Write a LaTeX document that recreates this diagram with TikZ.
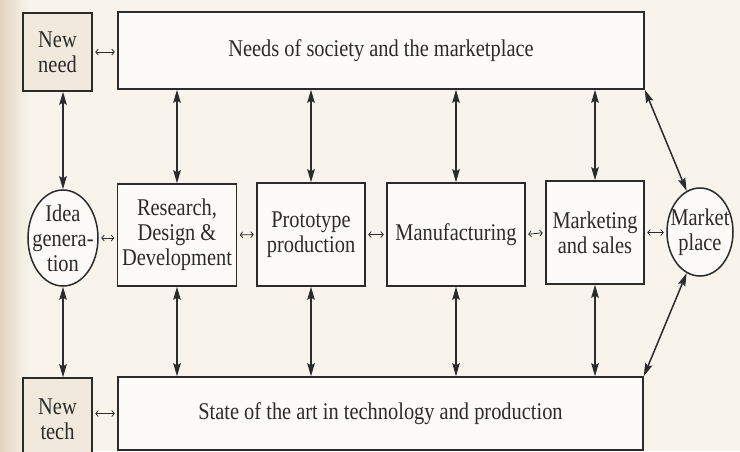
\documentclass[tikz,border=0pt]{standalone}
\usepackage{fontspec}
\setmainfont[FakeStretch=0.85]{Liberation Serif}
\usetikzlibrary{arrows.meta,shapes.geometric,calc}
\definecolor{bg}{HTML}{F8F4EC}
\definecolor{strip}{HTML}{E3D5C1}
\definecolor{boxfill}{HTML}{FCFBF7}
\definecolor{sidefill}{HTML}{F1E9DC}
\definecolor{ink}{HTML}{2B2B2B}
\begin{document}
\begin{tikzpicture}[x=1pt,y=-1pt,
  lbl/.style={text=ink,align=center,font=\fontsize{24}{25}\selectfont},
  box/.style={lbl,draw=ink,line width=1.5pt,fill=boxfill,inner sep=2pt},
  sidebox/.style={box,fill=sidefill},
  oval/.style={ellipse,draw=ink,line width=1.5pt,fill=boxfill,inner sep=0pt},
  bigarrow/.style={draw=ink,line width=1.5pt,
    {Stealth[length=13pt,width=7.5pt,inset=2pt]}-{Stealth[length=13pt,width=7.5pt,inset=2pt]}},
  link/.style={draw=ink,line width=0.8pt,
    {Straight Barb[length=2.5pt,width=6pt]}-{Straight Barb[length=2.5pt,width=6pt]},
    shorten <=2.5pt,shorten >=2.5pt}]
\useasboundingbox (0,0) rectangle (740,451);
\clip (0,0) rectangle (740,451);
\fill[bg] (0,0) rectangle (740,451);
\shade[left color=strip,right color=bg] (0,0) rectangle (30,451);

% top row
\node[sidebox,minimum width=69pt,minimum height=78pt] (newneed) at (57.5,52) {New\\need};
\node[box,minimum width=526pt,minimum height=77pt] (needs) at (381,50.5) {Needs of society and the marketplace};

% middle row
\node[oval,minimum width=70pt,minimum height=96pt] (idea) at (63,238) {};
\node[lbl] at (idea) {Idea\\genera-\\tion};
\node[box,minimum width=119pt,minimum height=102pt] (rdd) at (177,235) {Research,\\Design \&\\Development};
\node[box,minimum width=108pt,minimum height=103pt] (proto) at (311,234.5) {Prototype\\production};
\node[box,minimum width=138pt,minimum height=103pt] (manuf) at (456,234.5) {Manufacturing};
\node[box,minimum width=98pt,minimum height=103pt] (mkt) at (595,232.5) {Marketing\\and sales};
\node[oval,minimum width=66pt,minimum height=88pt] (mplace) at (700,232) {};
\node[lbl] at (mplace) {Market\\place};

% bottom row
\node[sidebox,minimum width=69pt,minimum height=82pt] (newtech) at (57.5,419) {New\\tech};
\node[box,minimum width=525pt,minimum height=73pt] (state) at (380.5,413.5) {State of the art in technology and production};

% small links
\draw[link] (newneed.east) -- (newneed.east -| needs.west);
\draw[link] (idea.east) -- (idea.east -| rdd.west);
\draw[link] (rdd.east) -- (proto.west);
\draw[link] (proto.east) -- (manuf.west);
\draw[link] (manuf.east) -- (mkt.west);
\draw[link] (mkt.east) -- (mkt.east -| mplace.west);
\draw[link] (newtech.east |- state) -- (state.west);

% vertical arrows
\draw[bigarrow] (idea.north |- newneed.south) -- (idea.north);
\draw[bigarrow] (idea.south) -- (idea.south |- newtech.north);
\foreach \n in {rdd,proto,manuf,mkt}{
  \draw[bigarrow] (\n.north |- needs.south) -- (\n.north);
  \draw[bigarrow] (\n.south) -- (\n.south |- state.north);
}
% diagonal arrows
\draw[bigarrow] (needs.south east) -- (mplace.108);
\draw[bigarrow] (mplace.252) -- (state.north east);
\end{tikzpicture}
\end{document}
